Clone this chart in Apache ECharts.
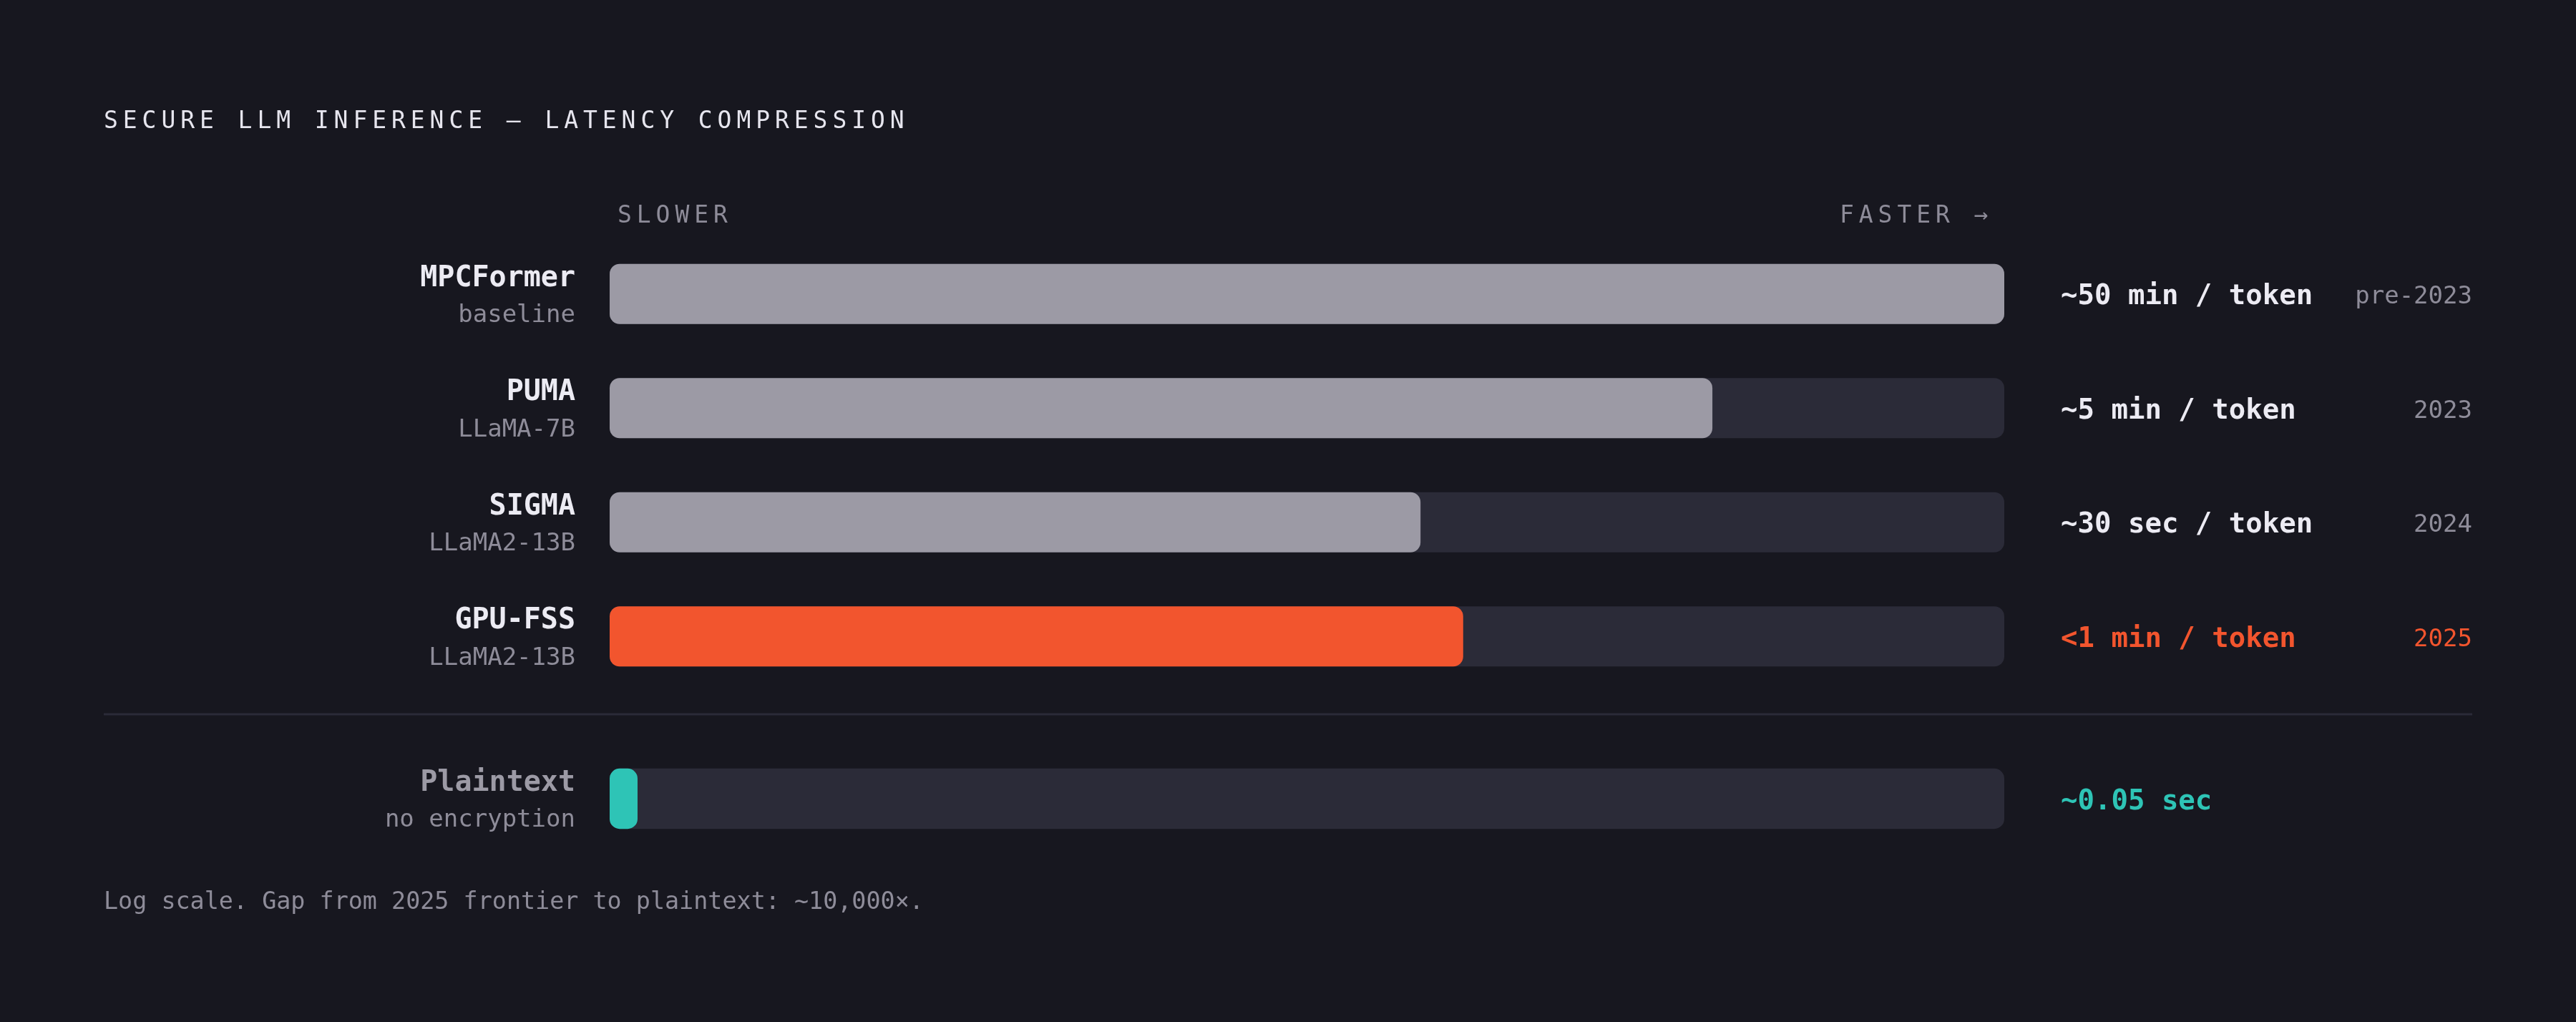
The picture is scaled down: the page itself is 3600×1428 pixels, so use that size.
<!DOCTYPE html>
<html>
<head>
<meta charset="utf-8">
<script src="https://cdn.jsdelivr.net/npm/echarts@6/dist/echarts.min.js"></script>
<style>
html,body{margin:0;padding:0;background:#17171f;}
#chart{width:3600px;height:1428px;}
</style>
</head>
<body>
<div id="chart"></div>
<script>
// ---- data ----
const models = ['MPCFormer', 'PUMA', 'SIGMA', 'GPU-FSS', 'Plaintext'];
const subtitles = ['baseline', 'LLaMA-7B', 'LLaMA2-13B', 'LLaMA2-13B', 'no encryption'];
const latencySec = [3000, 300, 30, 42, 0.05];
const latencyLabels = ['~50 min / token', '~5 min / token', '~30 sec / token', '<1 min / token', '~0.05 sec'];
const years = ['pre-2023', '2023', '2024', '2025', ''];
const titleText = 'SECURE LLM INFERENCE — LATENCY COMPRESSION';
const slowerText = 'SLOWER';
const fasterText = 'FASTER →';
const footerText = 'Log scale. Gap from 2025 frontier to plaintext: ~10,000×.';
const axisMin = 0.05, axisMax = 3000;

// ---- style ----
const BG = '#17171f', TRACK = '#2b2b38', GRAYBAR = '#9c9aa5', ORANGE = '#f2552e', TEAL = '#2ec4b6';
const WHITE = '#ecebf3', MUTED = '#8e8c99';
const FONT = 'DejaVu Sans Mono';
const barColors = [GRAYBAR, GRAYBAR, GRAYBAR, ORANGE, TEAL];

function spaced(str, key) {
  return str.split('').map(ch => '{' + key + '|' + ch + '}').join('');
}

const mainIdx = [0, 1, 2, 3];
const plainIdx = [4];

function renderBar(params, api) {
  const cat = api.value(1);
  const val = api.value(0);
  const i = api.value(2);
  const cs = params.coordSys;
  const c = api.coord([val, cat]);
  const h = api.size([1, 1])[1] * 0.527;
  const x0 = cs.x, w = cs.width;
  let bw = c[0] - x0;
  if (bw < w * 0.02) bw = w * 0.02;
  return {
    type: 'group',
    children: [
      { type: 'rect', shape: { x: x0, y: c[1] - h / 2, width: w, height: h, r: 14 }, style: { fill: TRACK } },
      { type: 'rect', shape: { x: x0, y: c[1] - h / 2, width: bw, height: h, r: 14 }, style: { fill: barColors[i] } }
    ]
  };
}

function leftLabel(i) {
  const nk = i === 4 ? 'np' : 'n';
  return '{' + nk + '|' + models[i] + '}\n{s|' + subtitles[i] + '}';
}
function rightLabel(i) {
  const vk = i === 3 ? 'vo' : (i === 4 ? 'vt' : 'v');
  const yk = i === 3 ? 'yo' : 'y';
  return '{' + vk + '|' + latencyLabels[i] + '}' + (years[i] ? '{' + yk + '|' + years[i] + '}' : '');
}

const leftRich = {
  n: { fontFamily: FONT, fontSize: 40, fontWeight: 'bold', color: WHITE, lineHeight: 52, align: 'right' },
  np: { fontFamily: FONT, fontSize: 40, fontWeight: 'bold', color: GRAYBAR, lineHeight: 52, align: 'right' },
  s: { fontFamily: FONT, fontSize: 34, color: MUTED, lineHeight: 52, align: 'right' }
};
const rightRich = {
  v: { fontFamily: FONT, fontSize: 39, fontWeight: 'bold', color: WHITE, width: 395 },
  vo: { fontFamily: FONT, fontSize: 39, fontWeight: 'bold', color: ORANGE, width: 395 },
  vt: { fontFamily: FONT, fontSize: 39, fontWeight: 'bold', color: TEAL, width: 395 },
  y: { fontFamily: FONT, fontSize: 34, color: MUTED, width: 180, align: 'right' },
  yo: { fontFamily: FONT, fontSize: 34, color: ORANGE, width: 180, align: 'right' }
};

function catAxis(grid, pos, idxs, fmt, rich, margin, padTop) {
  return {
    type: 'category', gridIndex: grid, position: pos, inverse: true,
    data: idxs.map(i => models[i]),
    axisLine: { show: false }, axisTick: { show: false }, splitLine: { show: false },
    axisLabel: {
      margin: margin,
      padding: [padTop, 0, 0, 0],
      formatter: (v, k) => fmt(idxs[k]),
      rich: rich
    }
  };
}
function valAxis(grid) {
  return {
    type: 'log', logBase: 10, gridIndex: grid, min: axisMin, max: axisMax, show: false
  };
}

const spacedRich = {
  t: { fontFamily: FONT, fontSize: 33, fill: '#e6e5ee', width: 26.8 },
  m: { fontFamily: FONT, fontSize: 33, fill: MUTED, width: 26.8 }
};

const chart = echarts.init(document.getElementById('chart'), null, { renderer: 'canvas' });
chart.setOption({
  backgroundColor: BG,
  animation: false,
  grid: [
    { left: 852, right: 799, top: 331, height: 638 },
    { left: 852, right: 799, top: 1036, height: 160 }
  ],
  xAxis: [valAxis(0), valAxis(1)],
  yAxis: [
    catAxis(0, 'left', mainIdx, leftLabel, leftRich, 48, 9),
    catAxis(0, 'right', mainIdx, rightLabel, rightRich, 79, 9),
    catAxis(1, 'left', plainIdx, leftLabel, leftRich, 48, 9),
    catAxis(1, 'right', plainIdx, rightLabel, rightRich, 79, 9)
  ],
  series: [
    {
      type: 'custom', xAxisIndex: 0, yAxisIndex: 0, renderItem: renderBar,
      encode: { x: 0, y: 1 },
      data: mainIdx.map((i, k) => [latencySec[i], k, i])
    },
    {
      type: 'custom', xAxisIndex: 1, yAxisIndex: 2, renderItem: renderBar,
      encode: { x: 0, y: 1 },
      data: plainIdx.map((i, k) => [latencySec[i], k, i])
    }
  ],
  graphic: [
    { type: 'text', x: 145, y: 170, style: { text: spaced(titleText, 't'), rich: spacedRich, verticalAlign: 'middle' } },
    { type: 'text', x: 863, y: 302, style: { text: spaced(slowerText, 'm'), rich: spacedRich, verticalAlign: 'middle' } },
    { type: 'text', x: 2571, y: 302, style: { text: spaced(fasterText, 'm'), rich: spacedRich, verticalAlign: 'middle' } },
    { type: 'line', shape: { x1: 145, y1: 998, x2: 3455, y2: 998 }, style: { stroke: TRACK, lineWidth: 3 } },
    { type: 'text', x: 145, y: 1261, style: { text: footerText, fontFamily: FONT, fontSize: 33.4, fill: MUTED, verticalAlign: 'middle' } }
  ]
});
</script>
</body>
</html>
